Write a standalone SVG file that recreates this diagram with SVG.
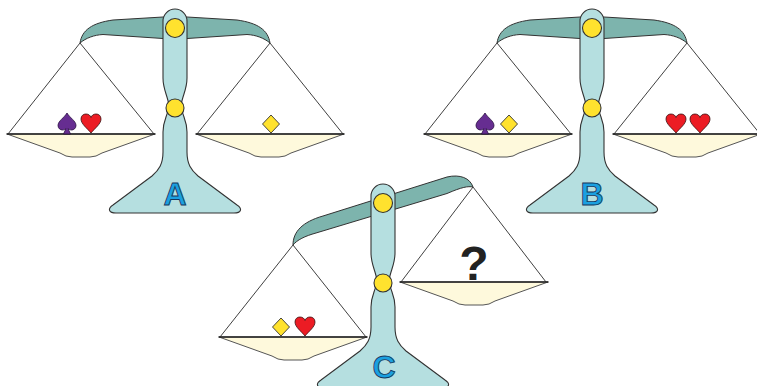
<svg xmlns="http://www.w3.org/2000/svg" xmlns:xlink="http://www.w3.org/1999/xlink" width="757" height="386" viewBox="0 0 757 386">
  <style>
    .beam { fill: #7db4ad; stroke: #333; stroke-width: 1; }
    .post { fill: #b5dfe0; stroke: #333; stroke-width: 1.1; }
    .pivot { fill: #ffe22e; stroke: #333; stroke-width: 1.1; }
    .string { stroke: #2a2a2a; stroke-width: 0.9; fill: none; }
    .pan { fill: #fef9dc; stroke: #555; stroke-width: 1; stroke-linejoin: round; }
    .rim { stroke: #222; stroke-width: 1.5; stroke-linecap: round; }
    .heart { fill: #ec1c24; stroke: #3a1010; stroke-width: 0.8; }
    .spade { fill: #662d91; stroke: #2a1040; stroke-width: 0.8; }
    .diamond { fill: #ffe22e; stroke: #333; stroke-width: 0.9; stroke-linejoin: round; }
    .label { font-family: "Liberation Sans", Arial, sans-serif; font-weight: bold; font-size: 32px; fill: #1ba0e0; stroke: #15395e; stroke-width: 0.9; text-anchor: middle; }
    .mark { font-family: "Liberation Sans", Arial, sans-serif; font-weight: bold; font-size: 48px; fill: #222; text-anchor: middle; }
  </style>
  <defs>
    <!-- upright post with its two pivot pins, drawn around x=175 -->
    <g id="post">
      <path class="post" d="M163,21 A12,12 0 0 1 187,21 L187,78 C187,90 182,96 181,106 L169,106 C168,96 163,90 163,78 Z"/>
      <path class="post" d="M168,110 C167,117 163,121 163,132 L163,152 C163,164 159,170 152,176 L113,205 C107,209 109,213 116,213 L234,213 C241,213 243,209 237,205 L198,176 C191,170 187,164 187,152 L187,132 C187,121 183,117 182,110 Z"/>
      <circle class="pivot" cx="175" cy="28" r="9.5"/>
      <circle class="pivot" cx="175" cy="108" r="9"/>
    </g>
    <!-- level beam, drawn around x=175 -->
    <path id="beam" class="beam" d="M80,43 C82,30 92,23 113,20 L163,17 L187,17 L237,20 C258,23 268,30 270,43 C264,38 256,35 247,34.5 L187,38.5 L163,38.5 L103,34.5 C94,35 86,38 80,43 Z"/>
    <!-- pan: centred on x=0, rim on y=0 -->
    <g id="pan">
      <path class="pan" d="M-74,0 L74,0 L21,19 Q15,23 9,23 L-9,23 Q-15,23 -21,19 Z"/>
      <line class="rim" x1="-74" y1="0" x2="74" y2="0"/>
    </g>
    <!-- suit symbols: centred on x=0, resting on y=0 -->
    <path id="heart" class="heart" d="M0,0 C-4,-5 -10,-9 -10,-14 C-10,-17.5 -7.5,-19 -5,-19 C-2.5,-19 -0.5,-17.5 0,-15.5 C0.5,-17.5 2.5,-19 5,-19 C7.5,-19 10,-17.5 10,-14 C10,-9 4,-5 0,0 Z"/>
    <path id="spade" class="spade" d="M0,-21 C-3,-16 -9,-13 -9,-8.5 C-9,-5.5 -6.5,-4 -4.5,-4 C-3,-4 -1.5,-4.8 -1,-5.5 L-3.5,0 L3.5,0 L1,-5.5 C1.5,-4.8 3,-4 4.5,-4 C6.5,-4 9,-5.5 9,-8.5 C9,-13 3,-16 0,-21 Z"/>
    <path id="diamond" class="diamond" d="M0,-18 L8.5,-9 L0,0 L-8.5,-9 Z"/>
  </defs>

  <!-- Scale A -->
  <g id="scale-a">
    <use xlink:href="#beam"/>
    <use xlink:href="#post"/>
    <g class="string">
      <polyline points="8,134 80,43 154,134"/>
      <polyline points="197,134 270,43 343,134"/>
    </g>
    <use xlink:href="#pan" x="81" y="134"/>
    <use xlink:href="#pan" x="270" y="134"/>
    <use xlink:href="#spade" x="67" y="134"/>
    <use xlink:href="#heart" x="91" y="133"/>
    <use xlink:href="#diamond" x="271" y="133"/>
    <text class="label" x="175" y="205">A</text>
  </g>

  <!-- Scale B -->
  <g id="scale-b" transform="translate(417,0)">
    <use xlink:href="#beam"/>
    <use xlink:href="#post"/>
    <g class="string">
      <polyline points="8,134 80,43 154,134"/>
      <polyline points="197,134 270,43 343,134"/>
    </g>
    <use xlink:href="#pan" x="81" y="134"/>
    <use xlink:href="#pan" x="270" y="134"/>
    <use xlink:href="#spade" x="68" y="134"/>
    <use xlink:href="#diamond" x="92" y="133"/>
    <use xlink:href="#heart" x="259" y="133"/>
    <use xlink:href="#heart" x="283" y="133"/>
    <text class="label" x="175" y="205">B</text>
  </g>

  <!-- Scale C (tilted) -->
  <g id="scale-c">
    <path class="beam" d="M293,245 C293,232 302,222 323,216 L447,177 C460,174 470,178 473,187 C468,186 462,187 447,193.5 L316,233 C305,236 297,240 293,245 Z"/>
    <use xlink:href="#post" transform="translate(208,175)"/>
    <g class="string">
      <polyline points="220,337 293,245 366,337"/>
      <polyline points="401,282 473,187 546,282"/>
    </g>
    <use xlink:href="#pan" x="293" y="337"/>
    <use xlink:href="#pan" x="474" y="282"/>
    <use xlink:href="#diamond" x="281" y="336"/>
    <use xlink:href="#heart" x="305" y="336"/>
    <text class="mark" x="474" y="280">?</text>
    <text class="label" x="384" y="378">C</text>
  </g>
</svg>
